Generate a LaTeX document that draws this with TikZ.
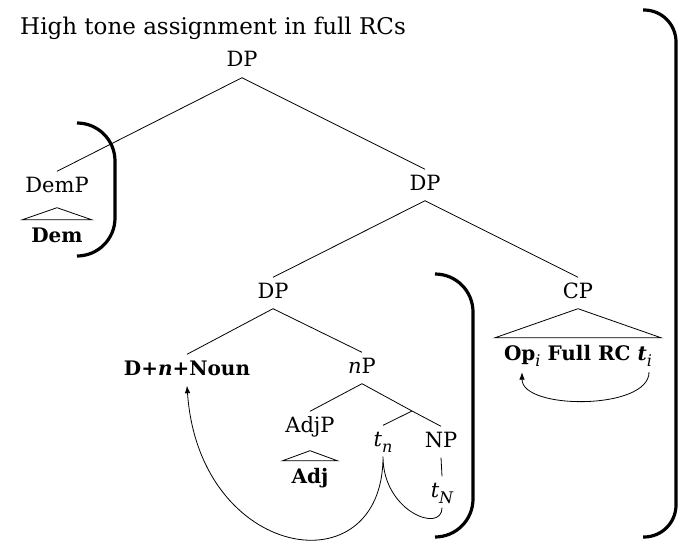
\documentclass[tikz,border=0pt]{standalone}
\usepackage{fontspec}
\setmainfont{DejaVu Serif}
\usetikzlibrary{arrows.meta, positioning}
\newcommand\subIdx[1]{\raisebox{-0.3em}{\fontsize{16}{16}\selectfont #1}}

\begin{document}
\begin{tikzpicture}[
  x=1pt, y=-1pt,
  treeNode/.style={font=\fontsize{21}{24}\selectfont, text height=15pt, text depth=5pt, inner xsep=2pt, inner ysep=5.5pt, anchor=base},
  boldNode/.style={treeNode, font=\fontsize{20}{24}\selectfont\bfseries},
  roofNode/.style={boldNode, inner xsep=9pt, inner ysep=7pt},
  titleNode/.style={font=\fontsize{23}{28}\selectfont, anchor=base west, inner sep=0pt},
  branch/.style={line width=0.8pt},
  bracketLine/.style={line width=3.2pt, rounded corners=#1},
  moveArrow/.style={-{Latex[length=7.5pt,width=5.5pt]}, line width=0.8pt, line join=round}
]
\useasboundingbox (0,0) rectangle (679,540);

% Title
\node[titleNode] (title) at (20,35) {High tone assignment in full RCs};

% Upper layers
\node[treeNode] (dpTop) at (242,67) {DP};
\node[treeNode] (demp) at (57,192) {DemP};
\node[roofNode] (dem) at (57,242) {Dem};
\node[treeNode] (dpMid) at (425,190) {DP};
\node[treeNode] (dpLow) at (273,298) {DP};
\node[treeNode] (cp) at (578,298) {CP};
\node[roofNode] (rc) at (578,360) {Op\subIdx{\textnormal{\textit{i}}} Full RC \textit{t\subIdx{\textnormal{\textit{i}}}}};

% Lower layers
\node[boldNode] (noun) at (187,375) {D+\textit{n}+Noun};
\node[treeNode] (littleNP) at (362,373) {\textit{n}P};
\coordinate (bar) at (412,411);
\node[treeNode] (adjp) at (310,432) {AdjP};
\node[roofNode] (adj) at (310,483) {Adj};
\node[treeNode] (tn) at (383,446) {\textit{t\subIdx{n}}};
\node[treeNode] (bigNP) at (441,447) {NP};
\node[treeNode] (tN) at (442,497) {\textit{t\subIdx{N}}};

% Branches
\draw[branch] (dpTop.south) -- (demp.north);
\draw[branch] (dpTop.south) -- (dpMid.north);
\draw[branch] (dpMid.south) -- (dpLow.north);
\draw[branch] (dpMid.south) -- (cp.north);
\draw[branch] (dpLow.south) -- (noun.north);
\draw[branch] (dpLow.south) -- (littleNP.north);
\draw[branch] (littleNP.south) -- (adjp.north);
\draw[branch] (littleNP.south) -- (bar) -- (bigNP.north);
\draw[branch] (bar) -- (tn.north);
\draw[branch] (bigNP.south) -- (tN.north);

% Roofs
\draw[branch] ([yshift=-5pt]demp.south) -- (dem.north west) -- (dem.north east) -- cycle;
\draw[branch] ([yshift=-8pt]adjp.south) -- (adj.north west) -- (adj.north east) -- cycle;
\draw[branch] (cp.south) -- (rc.north west) -- (rc.north east) -- cycle;

% Brackets
\draw[bracketLine=38pt] (77,123) -- (115,123) -- (115,256) -- (77,256);
\draw[bracketLine=38pt] (435,274) -- (473,274) -- (473,537) -- (435,537);
\draw[bracketLine=32pt] (643,10) -- (676,10) -- (676,537) -- (643,537);

% Movement
\draw[moveArrow] (tN.south) .. controls +(0,26) and +(0,55) .. (tn.south)
  .. controls +(0,133) and +(12,175) .. (noun.south);
\draw[moveArrow] ([xshift=71pt]rc.south) .. controls +(0,38) and +(0,38) .. ([xshift=-56pt]rc.south);

\end{tikzpicture}
\end{document}
